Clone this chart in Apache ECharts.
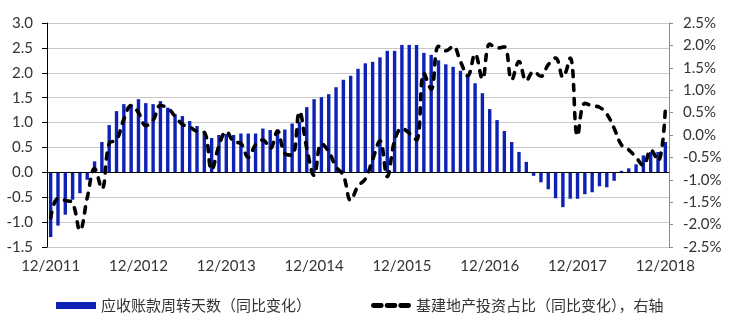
<!DOCTYPE html>
<html>
<head>
<meta charset="utf-8">
<script src="https://cdn.jsdelivr.net/npm/echarts@6/dist/echarts.min.js"></script>
<style>html,body{margin:0;padding:0;background:#fff}#c{width:734px;height:324px}</style>
</head>
<body>
<div id="c"></div>
<script>
// Monthly categories 12/2011 .. 12/2018
const startYear = 2011, startMonth = 12, monthCount = 85;
const categories = [];
for (let i = 0; i < monthCount; i++) {
  const k = startMonth - 1 + i;
  categories.push((k % 12 + 1) + '/' + (startYear + Math.floor(k / 12)));
}
const seriesNames = ['应收账款周转天数（同比变化）', '基建地产投资占比（同比变化），右轴'];

// Left axis: receivable turnover days, YoY change
const receivableDays = [
  -1.30, -1.07, -0.85, -0.55, -0.42, -0.15, 0.22, 0.61, 0.95, 1.23, 1.37, 1.36,
  1.47, 1.39, 1.37, 1.43, 1.30, 1.17, 1.13, 1.03, 0.93, 0.82, 0.69, 0.75,
  0.77, 0.75, 0.78, 0.78, 0.78, 0.88, 0.85, 0.86, 0.86, 0.98, 1.02, 1.31,
  1.47, 1.51, 1.57, 1.71, 1.86, 1.94, 2.08, 2.19, 2.22, 2.31, 2.44, 2.44,
  2.56, 2.56, 2.56, 2.40, 2.36, 2.25, 2.17, 2.12, 2.04, 1.95, 1.79, 1.59,
  1.27, 1.05, 0.83, 0.61, 0.41, 0.21, -0.07, -0.20, -0.34, -0.52, -0.70, -0.53,
  -0.53, -0.44, -0.40, -0.28, -0.30, -0.17, 0.03, 0.08, 0.16, 0.34, 0.41, 0.41,
  0.61
];
// Right axis: infrastructure + real estate investment share, YoY change (%)
const investShare = [
  -1.85, -1.42, -1.46, -1.52, -2.13, -1.40, -0.75, -1.20, -0.19, -0.11, 0.35, 0.66,
  0.50, 0.21, 0.33, 0.66, 0.60, 0.42, 0.24, 0.18, 0.08, 0.06, -0.78, -0.24,
  0.08, -0.15, -0.19, -0.50, -0.22, -0.11, -0.30, 0.09, -0.41, -0.45, 0.52, -0.30,
  -0.90, -0.19, -0.37, -0.71, -0.90, -1.46, -1.14, -0.98, -0.55, -0.13, -0.93, -0.13,
  0.15, 0.04, -0.11, 1.38, 1.02, 1.98, 1.88, 1.98, 1.64, 1.32, 1.81, 1.25,
  2.03, 1.94, 1.97, 1.23, 1.64, 1.21, 1.42, 1.31, 1.57, 1.72, 1.29, 1.72,
  -0.02, 0.71, 0.65, 0.62, 0.47, 0.15, -0.22, -0.33, -0.50, -0.68, -0.33, -0.58,
  0.58
];
const leftTicks = {min: -1.5, max: 3.0, interval: 0.5};
const rightTicks = {min: -2.5, max: 2.5, interval: 0.5};

const FONT = 'Lato';
const dashIcon = 'path://M2,0h8a2,2 0 0 1 0,5h-8a2,2 0 0 1 0,-5z M16,0h8a2,2 0 0 1 0,5h-8a2,2 0 0 1 0,-5z M30,0h8a2,2 0 0 1 0,5h-8a2,2 0 0 1 0,-5z';
const chart = echarts.init(document.getElementById('c'), null, {renderer: 'canvas'});
chart.setOption({
  animation: false,
  backgroundColor: '#fff',
  grid: {left: 47, right: 65, top: 23, bottom: 77},
  legend: {
    left: 51, top: 293, itemGap: 60, itemWidth: 40, itemHeight: 7,
    textStyle: {fontFamily: 'Noto Sans CJK SC', fontSize: 15, color: '#333'},
    data: [
      {name: seriesNames[0], icon: 'rect'},
      {name: seriesNames[1], icon: dashIcon, itemStyle: {color: '#000', borderWidth: 0}}
    ]
  },
  xAxis: {
    type: 'category', data: categories, boundaryGap: true,
    axisLine: {show: false, onZero: false},
    axisTick: {show: false},
    axisLabel: {interval: 11, margin: 12, fontFamily: FONT, fontSize: 15, color: '#333'},
    splitLine: {show: false}
  },
  yAxis: [
    {
      type: 'value', min: leftTicks.min, max: leftTicks.max, interval: leftTicks.interval,
      axisLine: {show: true, lineStyle: {color: '#000', width: 1}},
      axisTick: {show: true, inside: false, length: 5, lineStyle: {color: '#000'}},
      axisLabel: {margin: 14, fontFamily: FONT, fontSize: 15, color: '#333', formatter: v => v.toFixed(1)},
      splitLine: {show: true, lineStyle: {color: '#c8c8c8', width: 1}}
    },
    {
      type: 'value', min: rightTicks.min, max: rightTicks.max, interval: rightTicks.interval,
      position: 'right',
      axisLine: {show: true, lineStyle: {color: '#8c8c8c', width: 1}},
      axisTick: {show: true, inside: false, length: 4, lineStyle: {color: '#8c8c8c'}},
      axisLabel: {margin: 14, fontFamily: FONT, fontSize: 15, color: '#333', formatter: v => v.toFixed(1) + '%'},
      splitLine: {show: false}
    }
  ],
  series: [
    {
      name: seriesNames[0], type: 'bar', yAxisIndex: 0, data: receivableDays,
      barWidth: 3.4,
      itemStyle: {color: '#0D22B4'},
      markLine: {
        silent: true, symbol: 'none', animation: false,
        label: {show: false},
        lineStyle: {color: '#000', type: 'solid', width: 1.2},
        data: [{yAxis: 0}]
      },
      z: 2
    },
    {
      name: seriesNames[1], type: 'line', yAxisIndex: 1, data: investShare,
      smooth: 0.4, symbol: 'none',
      itemStyle: {color: '#000'},
      lineStyle: {color: '#000', width: 3.6, type: [6, 8], cap: 'round'},
      z: 3
    }
  ]
});
</script>
</body>
</html>
